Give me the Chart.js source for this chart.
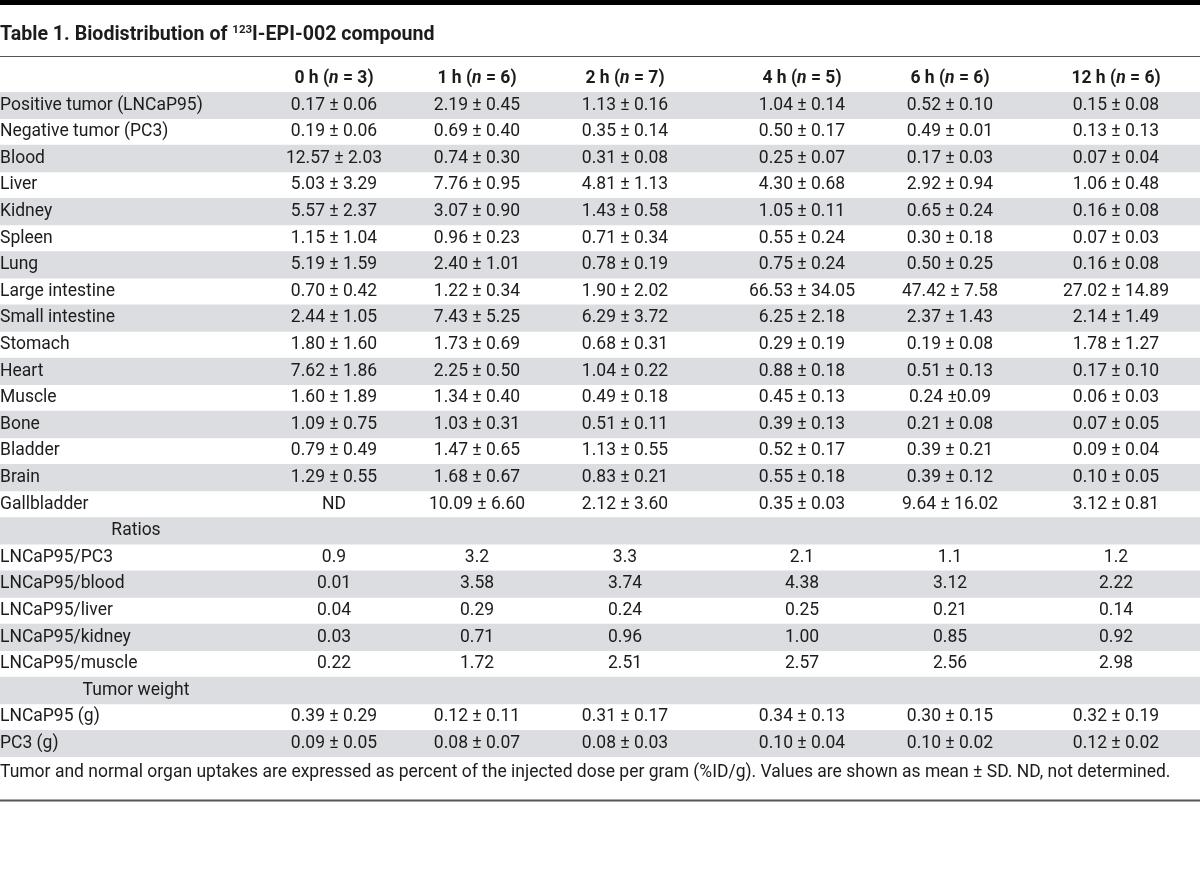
<!DOCTYPE html>
<html>
<head>
<meta charset="utf-8">
<script src="https://cdn.jsdelivr.net/npm/chart.js@4.4.1/dist/chart.umd.min.js"></script>
<style>
  html, body { margin: 0; padding: 0; background: #ffffff; }
  #wrap { width: 1200px; height: 891px; }
</style>
</head>
<body>
<div id="wrap"><canvas id="c" width="1200" height="891"></canvas></div>
<script>
// ---------- DATA ----------
const titleMain = 'Table 1. Biodistribution of ';
const titleSup = '123';
const titleRest = 'I-EPI-002 compound';

const hours = ['0', '1', '2', '4', '6', '12'];
const nCounts = ['3', '6', '7', '5', '6', '6'];

const rowLabels = [
  'Positive tumor (LNCaP95)', 'Negative tumor (PC3)', 'Blood', 'Liver', 'Kidney',
  'Spleen', 'Lung', 'Large intestine', 'Small intestine', 'Stomach', 'Heart',
  'Muscle', 'Bone', 'Bladder', 'Brain', 'Gallbladder',
  'Ratios',
  'LNCaP95/PC3', 'LNCaP95/blood', 'LNCaP95/liver', 'LNCaP95/kidney', 'LNCaP95/muscle',
  'Tumor weight',
  'LNCaP95 (g)', 'PC3 (g)'
];
const sectionLabels = ['Ratios', 'Tumor weight'];

const values0h = ['0.17 ± 0.06', '0.19 ± 0.06', '12.57 ± 2.03', '5.03 ± 3.29', '5.57 ± 2.37',
  '1.15 ± 1.04', '5.19 ± 1.59', '0.70 ± 0.42', '2.44 ± 1.05', '1.80 ± 1.60', '7.62 ± 1.86',
  '1.60 ± 1.89', '1.09 ± 0.75', '0.79 ± 0.49', '1.29 ± 0.55', 'ND', '',
  '0.9', '0.01', '0.04', '0.03', '0.22', '', '0.39 ± 0.29', '0.09 ± 0.05'];
const values1h = ['2.19 ± 0.45', '0.69 ± 0.40', '0.74 ± 0.30', '7.76 ± 0.95', '3.07 ± 0.90',
  '0.96 ± 0.23', '2.40 ± 1.01', '1.22 ± 0.34', '7.43 ± 5.25', '1.73 ± 0.69', '2.25 ± 0.50',
  '1.34 ± 0.40', '1.03 ± 0.31', '1.47 ± 0.65', '1.68 ± 0.67', '10.09 ± 6.60', '',
  '3.2', '3.58', '0.29', '0.71', '1.72', '', '0.12 ± 0.11', '0.08 ± 0.07'];
const values2h = ['1.13 ± 0.16', '0.35 ± 0.14', '0.31 ± 0.08', '4.81 ± 1.13', '1.43 ± 0.58',
  '0.71 ± 0.34', '0.78 ± 0.19', '1.90 ± 2.02', '6.29 ± 3.72', '0.68 ± 0.31', '1.04 ± 0.22',
  '0.49 ± 0.18', '0.51 ± 0.11', '1.13 ± 0.55', '0.83 ± 0.21', '2.12 ± 3.60', '',
  '3.3', '3.74', '0.24', '0.96', '2.51', '', '0.31 ± 0.17', '0.08 ± 0.03'];
const values4h = ['1.04 ± 0.14', '0.50 ± 0.17', '0.25 ± 0.07', '4.30 ± 0.68', '1.05 ± 0.11',
  '0.55 ± 0.24', '0.75 ± 0.24', '66.53 ± 34.05', '6.25 ± 2.18', '0.29 ± 0.19', '0.88 ± 0.18',
  '0.45 ± 0.13', '0.39 ± 0.13', '0.52 ± 0.17', '0.55 ± 0.18', '0.35 ± 0.03', '',
  '2.1', '4.38', '0.25', '1.00', '2.57', '', '0.34 ± 0.13', '0.10 ± 0.04'];
const values6h = ['0.52 ± 0.10', '0.49 ± 0.01', '0.17 ± 0.03', '2.92 ± 0.94', '0.65 ± 0.24',
  '0.30 ± 0.18', '0.50 ± 0.25', '47.42 ± 7.58', '2.37 ± 1.43', '0.19 ± 0.08', '0.51 ± 0.13',
  '0.24 ±0.09', '0.21 ± 0.08', '0.39 ± 0.21', '0.39 ± 0.12', '9.64 ± 16.02', '',
  '1.1', '3.12', '0.21', '0.85', '2.56', '', '0.30 ± 0.15', '0.10 ± 0.02'];
const values12h = ['0.15 ± 0.08', '0.13 ± 0.13', '0.07 ± 0.04', '1.06 ± 0.48', '0.16 ± 0.08',
  '0.07 ± 0.03', '0.16 ± 0.08', '27.02 ± 14.89', '2.14 ± 1.49', '1.78 ± 1.27', '0.17 ± 0.10',
  '0.06 ± 0.03', '0.07 ± 0.05', '0.09 ± 0.04', '0.10 ± 0.05', '3.12 ± 0.81', '',
  '1.2', '2.22', '0.14', '0.92', '2.98', '', '0.32 ± 0.19', '0.12 ± 0.02'];

const footnote = 'Tumor and normal organ uptakes are expressed as percent of the injected dose per gram (%ID/g). Values are shown as mean ± SD. ND, not determined.';

// ---------- LAYOUT / STYLE ----------
const columns = [values0h, values1h, values2h, values4h, values6h, values12h];
const layout = {
  columnCenters: [334, 477, 625, 802, 950, 1116], // x-scale units
  sectionCenter: 136,
  tableTop: 92, tableBottom: 757,
  titleBaseline: 40, titleRuleY: 56.5, headerY: 79,
  footY: 773, bottomRuleY: 800.5
};
const FONT = 'Roboto, "Open Sans", sans-serif';
const SIZE = '17.5px ';
const TXT = '#1c1c1c';
const STRIPE = '#dcdde0';

const stripeData = rowLabels.map((_, i) => (i % 2 === 0 ? [0, 1200] : null));

const tablePlugin = {
  id: 'tablePlugin',
  beforeDraw(chart) {
    const ctx = chart.ctx;
    ctx.save();
    ctx.fillStyle = '#ffffff';
    ctx.fillRect(0, 0, chart.width, chart.height);
    // top black bar
    ctx.fillStyle = '#000000';
    ctx.fillRect(0, 0, chart.width, 5);
    // title
    ctx.fillStyle = TXT;
    ctx.textBaseline = 'alphabetic';
    ctx.textAlign = 'left';
    let x = 0;
    ctx.font = 'bold 19.6px ' + FONT;
    ctx.fillText(titleMain, x, layout.titleBaseline);
    x += ctx.measureText(titleMain).width;
    ctx.font = 'bold 11.5px ' + FONT;
    ctx.fillText(titleSup, x, layout.titleBaseline - 7);
    x += ctx.measureText(titleSup).width;
    ctx.font = 'bold 19.6px ' + FONT;
    ctx.fillText(titleRest, x, layout.titleBaseline);
    // rule under title
    ctx.strokeStyle = '#555555';
    ctx.lineWidth = 1;
    ctx.beginPath();
    ctx.moveTo(0, layout.titleRuleY);
    ctx.lineTo(chart.width, layout.titleRuleY);
    ctx.stroke();
    ctx.restore();
  },
  afterDatasetsDraw(chart) {
    const ctx = chart.ctx;
    const xs = chart.scales.x, ys = chart.scales.y;
    ctx.save();
    ctx.fillStyle = TXT;
    ctx.textBaseline = 'middle';
    // header row
    columns.forEach((col, j) => {
      const cx = xs.getPixelForValue(layout.columnCenters[j]);
      const parts = [
        [hours[j] + ' h (', 'bold ' + SIZE + FONT],
        ['n', 'italic bold ' + SIZE + FONT],
        [' = ' + nCounts[j] + ')', 'bold ' + SIZE + FONT]
      ];
      let total = 0;
      parts.forEach(p => { ctx.font = p[1]; total += ctx.measureText(p[0]).width; });
      let px = cx - total / 2;
      ctx.textAlign = 'left';
      parts.forEach(p => { ctx.font = p[1]; ctx.fillText(p[0], px, layout.headerY); px += ctx.measureText(p[0]).width; });
    });
    // rows
    ctx.font = SIZE + FONT;
    rowLabels.forEach((lab, i) => {
      const cy = ys.getPixelForValue(i);
      if (sectionLabels.includes(lab)) {
        ctx.textAlign = 'center';
        ctx.fillText(lab, xs.getPixelForValue(layout.sectionCenter), cy);
      } else {
        ctx.textAlign = 'left';
        ctx.fillText(lab, xs.getPixelForValue(0), cy);
      }
      ctx.textAlign = 'center';
      columns.forEach((col, j) => {
        if (col[i]) ctx.fillText(col[i], xs.getPixelForValue(layout.columnCenters[j]), cy);
      });
    });
    // footnote
    ctx.textAlign = 'left';
    ctx.fillText(footnote, 0, layout.footY);
    // bottom rule
    ctx.strokeStyle = '#555555';
    ctx.lineWidth = 2;
    ctx.beginPath();
    ctx.moveTo(0, layout.bottomRuleY);
    ctx.lineTo(chart.width, layout.bottomRuleY);
    ctx.stroke();
    ctx.restore();
  }
};

new Chart(document.getElementById('c'), {
  type: 'bar',
  data: {
    labels: rowLabels,
    datasets: [{
      data: stripeData,
      backgroundColor: STRIPE,
      borderWidth: 0,
      barPercentage: 1,
      categoryPercentage: 1
    }]
  },
  options: {
    indexAxis: 'y',
    responsive: false,
    animation: false,
    events: [],
    layout: { padding: { top: layout.tableTop, bottom: 891 - layout.tableBottom, left: 0, right: 0 } },
    plugins: { legend: { display: false }, tooltip: { enabled: false }, title: { display: false } },
    scales: {
      x: { type: 'linear', min: 0, max: 1200, display: false },
      y: { type: 'category', display: false, offset: true }
    }
  },
  plugins: [tablePlugin]
});
</script>
</body>
</html>
